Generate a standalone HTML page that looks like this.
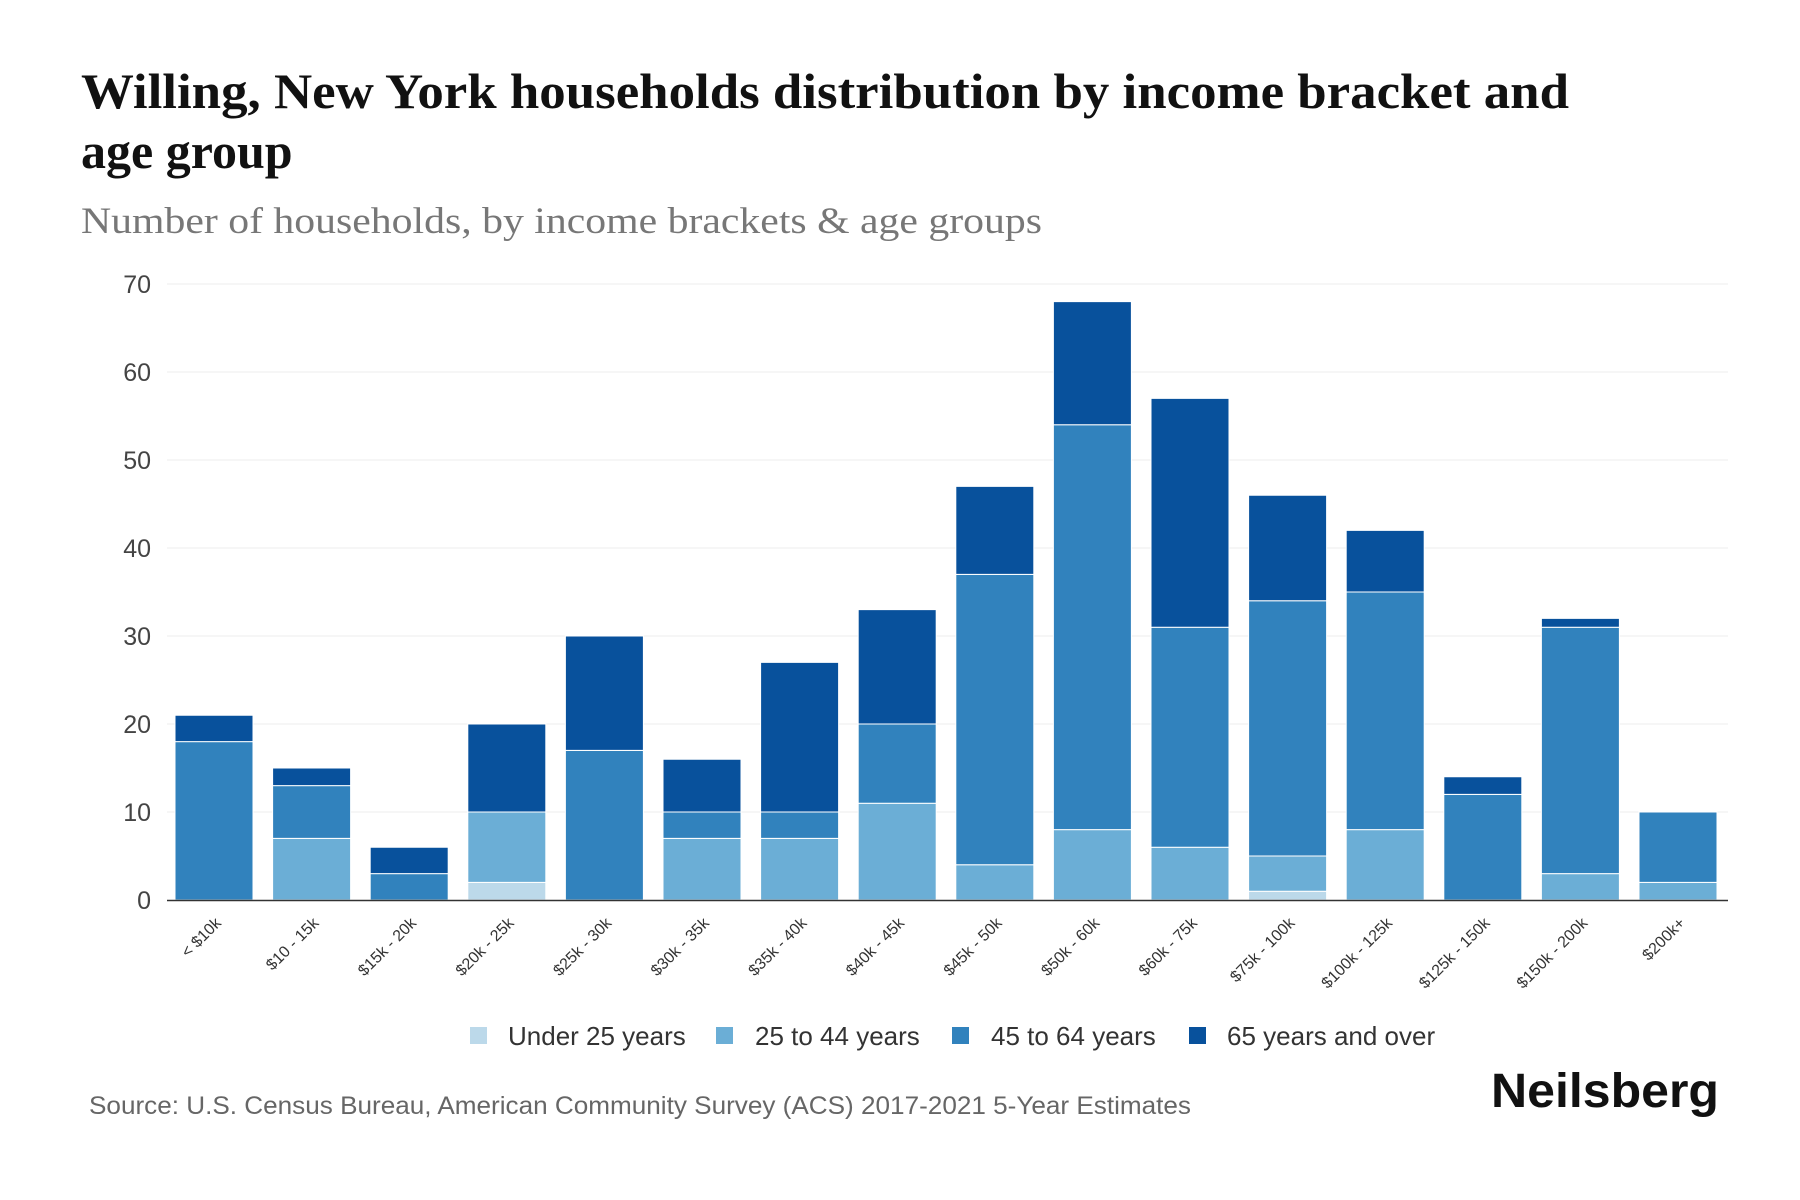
<!DOCTYPE html>
<html><head><meta charset="utf-8"><style>
html,body{margin:0;padding:0;background:#fff;width:1800px;height:1200px;overflow:hidden}
svg{display:block}
</style></head><body>
<svg width="1800" height="1200" viewBox="0 0 1800 1200" xmlns="http://www.w3.org/2000/svg">
<g font-family="Liberation Serif, serif">
<text x="81" y="108" font-size="50" font-weight="bold" fill="#111" textLength="1488" lengthAdjust="spacingAndGlyphs">Willing, New York households distribution by income bracket and</text>
<text x="81" y="168" font-size="50" font-weight="bold" fill="#111">age group</text>
<text x="81" y="233" font-size="37" fill="#777" textLength="961" lengthAdjust="spacingAndGlyphs">Number of households, by income brackets &amp; age groups</text>
</g>
<g stroke="#eeeeee" stroke-width="1">
<line x1="167" x2="1728" y1="284" y2="284"/><line x1="167" x2="1728" y1="372" y2="372"/>
<line x1="167" x2="1728" y1="460" y2="460"/><line x1="167" x2="1728" y1="548" y2="548"/>
<line x1="167" x2="1728" y1="636" y2="636"/><line x1="167" x2="1728" y1="724" y2="724"/>
<line x1="167" x2="1728" y1="812" y2="812"/>
</g>
<g font-family="Liberation Sans, sans-serif" font-size="25" fill="#444" text-anchor="end">
<text x="151" y="293">70</text><text x="151" y="381">60</text><text x="151" y="469">50</text>
<text x="151" y="557">40</text><text x="151" y="645">30</text><text x="151" y="733">20</text>
<text x="151" y="821">10</text><text x="151" y="909">0</text>
</g>
<g transform="translate(0,900) scale(1,-8.8)" stroke="#fff" stroke-width="1">
<rect x="175" y="0" width="78" height="18" fill="#3182bd" vector-effect="non-scaling-stroke"/>
<rect x="175" y="18" width="78" height="3" fill="#08519c" vector-effect="non-scaling-stroke"/>
<rect x="272.6" y="0" width="78" height="7" fill="#6baed6" vector-effect="non-scaling-stroke"/>
<rect x="272.6" y="7" width="78" height="6" fill="#3182bd" vector-effect="non-scaling-stroke"/>
<rect x="272.6" y="13" width="78" height="2" fill="#08519c" vector-effect="non-scaling-stroke"/>
<rect x="370.2" y="0" width="78" height="3" fill="#3182bd" vector-effect="non-scaling-stroke"/>
<rect x="370.2" y="3" width="78" height="3" fill="#08519c" vector-effect="non-scaling-stroke"/>
<rect x="467.8" y="0" width="78" height="2" fill="#bcd9ea" vector-effect="non-scaling-stroke"/>
<rect x="467.8" y="2" width="78" height="8" fill="#6baed6" vector-effect="non-scaling-stroke"/>
<rect x="467.8" y="10" width="78" height="10" fill="#08519c" vector-effect="non-scaling-stroke"/>
<rect x="565.4" y="0" width="78" height="17" fill="#3182bd" vector-effect="non-scaling-stroke"/>
<rect x="565.4" y="17" width="78" height="13" fill="#08519c" vector-effect="non-scaling-stroke"/>
<rect x="663" y="0" width="78" height="7" fill="#6baed6" vector-effect="non-scaling-stroke"/>
<rect x="663" y="7" width="78" height="3" fill="#3182bd" vector-effect="non-scaling-stroke"/>
<rect x="663" y="10" width="78" height="6" fill="#08519c" vector-effect="non-scaling-stroke"/>
<rect x="760.6" y="0" width="78" height="7" fill="#6baed6" vector-effect="non-scaling-stroke"/>
<rect x="760.6" y="7" width="78" height="3" fill="#3182bd" vector-effect="non-scaling-stroke"/>
<rect x="760.6" y="10" width="78" height="17" fill="#08519c" vector-effect="non-scaling-stroke"/>
<rect x="858.2" y="0" width="78" height="11" fill="#6baed6" vector-effect="non-scaling-stroke"/>
<rect x="858.2" y="11" width="78" height="9" fill="#3182bd" vector-effect="non-scaling-stroke"/>
<rect x="858.2" y="20" width="78" height="13" fill="#08519c" vector-effect="non-scaling-stroke"/>
<rect x="955.8" y="0" width="78" height="4" fill="#6baed6" vector-effect="non-scaling-stroke"/>
<rect x="955.8" y="4" width="78" height="33" fill="#3182bd" vector-effect="non-scaling-stroke"/>
<rect x="955.8" y="37" width="78" height="10" fill="#08519c" vector-effect="non-scaling-stroke"/>
<rect x="1053.4" y="0" width="78" height="8" fill="#6baed6" vector-effect="non-scaling-stroke"/>
<rect x="1053.4" y="8" width="78" height="46" fill="#3182bd" vector-effect="non-scaling-stroke"/>
<rect x="1053.4" y="54" width="78" height="14" fill="#08519c" vector-effect="non-scaling-stroke"/>
<rect x="1151" y="0" width="78" height="6" fill="#6baed6" vector-effect="non-scaling-stroke"/>
<rect x="1151" y="6" width="78" height="25" fill="#3182bd" vector-effect="non-scaling-stroke"/>
<rect x="1151" y="31" width="78" height="26" fill="#08519c" vector-effect="non-scaling-stroke"/>
<rect x="1248.6" y="0" width="78" height="1" fill="#bcd9ea" vector-effect="non-scaling-stroke"/>
<rect x="1248.6" y="1" width="78" height="4" fill="#6baed6" vector-effect="non-scaling-stroke"/>
<rect x="1248.6" y="5" width="78" height="29" fill="#3182bd" vector-effect="non-scaling-stroke"/>
<rect x="1248.6" y="34" width="78" height="12" fill="#08519c" vector-effect="non-scaling-stroke"/>
<rect x="1346.2" y="0" width="78" height="8" fill="#6baed6" vector-effect="non-scaling-stroke"/>
<rect x="1346.2" y="8" width="78" height="27" fill="#3182bd" vector-effect="non-scaling-stroke"/>
<rect x="1346.2" y="35" width="78" height="7" fill="#08519c" vector-effect="non-scaling-stroke"/>
<rect x="1443.8" y="0" width="78" height="12" fill="#3182bd" vector-effect="non-scaling-stroke"/>
<rect x="1443.8" y="12" width="78" height="2" fill="#08519c" vector-effect="non-scaling-stroke"/>
<rect x="1541.4" y="0" width="78" height="3" fill="#6baed6" vector-effect="non-scaling-stroke"/>
<rect x="1541.4" y="3" width="78" height="28" fill="#3182bd" vector-effect="non-scaling-stroke"/>
<rect x="1541.4" y="31" width="78" height="1" fill="#08519c" vector-effect="non-scaling-stroke"/>
<rect x="1639" y="0" width="78" height="2" fill="#6baed6" vector-effect="non-scaling-stroke"/>
<rect x="1639" y="2" width="78" height="8" fill="#3182bd" vector-effect="non-scaling-stroke"/>
</g>
<line x1="167" x2="1728" y1="900.5" y2="900.5" stroke="#333" stroke-width="1.5"/>
<g font-family="Liberation Sans, sans-serif" font-size="16" fill="#333" text-anchor="end">
<text transform="translate(222,924) rotate(-45)">&lt; $10k</text>
<text transform="translate(319.6,924) rotate(-45)">$10 - 15k</text>
<text transform="translate(417.2,924) rotate(-45)">$15k - 20k</text>
<text transform="translate(514.8,924) rotate(-45)">$20k - 25k</text>
<text transform="translate(612.4,924) rotate(-45)">$25k - 30k</text>
<text transform="translate(710,924) rotate(-45)">$30k - 35k</text>
<text transform="translate(807.6,924) rotate(-45)">$35k - 40k</text>
<text transform="translate(905.2,924) rotate(-45)">$40k - 45k</text>
<text transform="translate(1002.8,924) rotate(-45)">$45k - 50k</text>
<text transform="translate(1100.4,924) rotate(-45)">$50k - 60k</text>
<text transform="translate(1198,924) rotate(-45)">$60k - 75k</text>
<text transform="translate(1295.6,924) rotate(-45)">$75k - 100k</text>
<text transform="translate(1393.2,924) rotate(-45)">$100k - 125k</text>
<text transform="translate(1490.8,924) rotate(-45)">$125k - 150k</text>
<text transform="translate(1588.4,924) rotate(-45)">$150k - 200k</text>
<text transform="translate(1686,924) rotate(-45)">$200k+</text>
</g>
<g font-family="Liberation Sans, sans-serif" font-size="26" fill="#333">
<rect x="470" y="1027" width="17" height="17" fill="#bcd9ea"/>
<text x="508" y="1045">Under 25 years</text>
<rect x="716" y="1027" width="17" height="17" fill="#6baed6"/>
<text x="755" y="1045">25 to 44 years</text>
<rect x="952" y="1027" width="17" height="17" fill="#3182bd"/>
<text x="991" y="1045">45 to 64 years</text>
<rect x="1189" y="1027" width="17" height="17" fill="#08519c"/>
<text x="1227" y="1045">65 years and over</text>
</g>
<text x="89" y="1114" font-family="Liberation Sans, sans-serif" font-size="25" fill="#666" textLength="1102" lengthAdjust="spacingAndGlyphs">Source: U.S. Census Bureau, American Community Survey (ACS) 2017-2021 5-Year Estimates</text>
<text x="1491" y="1107" font-family="Liberation Sans, sans-serif" font-size="48" font-weight="bold" fill="#111" textLength="228" lengthAdjust="spacingAndGlyphs">Neilsberg</text>
</svg>
</body></html>
